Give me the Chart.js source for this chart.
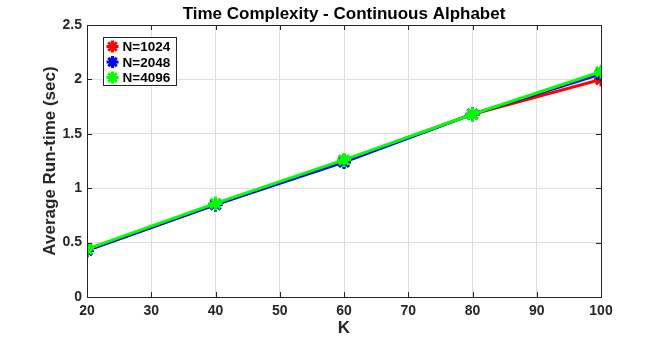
<!DOCTYPE html>
<html>
<head>
<meta charset="utf-8">
<script src="https://cdn.jsdelivr.net/npm/chart.js@4"></script>
<style>
  html, body { margin: 0; padding: 0; background: #fff; }
  #wrap { width: 664px; height: 339px; }
</style>
</head>
<body>
<div id="wrap"><canvas id="timeChart" width="664" height="339"></canvas></div>
<script>
const kValues = [20, 40, 60, 80, 100];
const n1024 = [0.43, 0.85, 1.25, 1.68, 2.00];
const n2048 = [0.43, 0.85, 1.24, 1.68, 2.05];
const n4096 = [0.44, 0.86, 1.26, 1.68, 2.07];
const seriesNames = ['N=1024', 'N=2048', 'N=4096'];
const seriesColors = ['#ff0000', '#0000ff', '#00ff00'];
const xTicks = [20, 30, 40, 50, 60, 70, 80, 90, 100];
const yTicks = [0, 0.5, 1, 1.5, 2, 2.5];

const FONT = 'Liberation Sans, Arial, Helvetica, sans-serif';
const ctx = document.getElementById('timeChart').getContext('2d');

const toPoints = vals => vals.map((v, i) => ({ x: kValues[i], y: v }));

const makeSet = (i, vals, order) => ({
    label: seriesNames[i],
    data: toPoints(vals),
    borderColor: seriesColors[i],
    backgroundColor: seriesColors[i],
    borderWidth: 3,
    pointStyle: 'star',
    pointRadius: 7,
    pointBorderWidth: 3,
    pointBorderColor: seriesColors[i],
    tension: 0,
    order: order
});

// frame, inward ticks, title, legend box
const matlabBits = {
    id: 'matlabBits',
    afterDraw(chart) {
        const { ctx, chartArea: a, scales } = chart;
        const sx = scales.x, sy = scales.y;
        ctx.save();
        ctx.strokeStyle = '#262626';
        ctx.lineWidth = 1;
        ctx.beginPath();
        xTicks.forEach(t => {
            const px = Math.round(sx.getPixelForValue(t)) + 0.5;
            ctx.moveTo(px, a.bottom); ctx.lineTo(px, a.bottom - 5);
            ctx.moveTo(px, a.top); ctx.lineTo(px, a.top + 5);
        });
        yTicks.forEach(t => {
            const py = Math.round(sy.getPixelForValue(t)) + 0.5;
            ctx.moveTo(a.left, py); ctx.lineTo(a.left + 5, py);
            ctx.moveTo(a.right, py); ctx.lineTo(a.right - 5, py);
        });
        ctx.stroke();
        ctx.strokeRect(Math.round(a.left) + 0.5, Math.round(a.top) + 0.5,
            Math.round(a.right - a.left), Math.round(a.bottom - a.top));

        // title
        ctx.fillStyle = '#000';
        ctx.font = 'bold 17px ' + FONT;
        ctx.textAlign = 'center';
        ctx.textBaseline = 'middle';
        ctx.fillText('Time Complexity - Continuous Alphabet', (a.left + a.right) / 2, 14);

        // legend
        const lx = 103.5, ly = 37.5, lw = 73, lh = 48;
        ctx.fillStyle = '#fff';
        ctx.fillRect(lx, ly, lw, lh);
        ctx.strokeStyle = '#262626';
        ctx.lineWidth = 1;
        ctx.strokeRect(lx, ly, lw, lh);
        ctx.font = 'bold 13.5px ' + FONT;
        ctx.textAlign = 'left';
        seriesNames.forEach((name, i) => {
            const y = ly + 9 + i * 15.5;
            ctx.strokeStyle = seriesColors[i];
            ctx.lineWidth = 3;
            ctx.beginPath();
            const r = 6;
            for (let k = 0; k < 4; k++) {
                const ang = k * Math.PI / 4;
                ctx.moveTo(lx + 9 - r * Math.cos(ang), y - r * Math.sin(ang));
                ctx.lineTo(lx + 9 + r * Math.cos(ang), y + r * Math.sin(ang));
            }
            ctx.stroke();
            ctx.fillStyle = '#000';
            ctx.fillText(name, lx + 19, y + 1);
        });
        ctx.restore();
    }
};

new Chart(ctx, {
    type: 'line',
    data: {
        datasets: [makeSet(0, n1024, 3), makeSet(1, n2048, 2), makeSet(2, n4096, 1)]
    },
    options: {
        responsive: false,
        animation: false,
        layout: { padding: { top: 25, left: 0, right: 63, bottom: 0 } },
        plugins: {
            legend: { display: false },
            title: { display: false },
            tooltip: { enabled: false }
        },
        scales: {
            x: {
                type: 'linear',
                min: 20,
                max: 100,
                afterBuildTicks: s => { s.ticks = xTicks.map(v => ({ value: v })); },
                afterFit: s => { s.height = 42; },
                grid: { color: '#dedede', drawTicks: false, lineWidth: 1 },
                border: { color: '#262626', width: 1 },
                ticks: {
                    padding: 6,
                    color: '#262626',
                    font: { family: FONT, size: 14, weight: 'bold' },
                    maxRotation: 0
                },
                title: {
                    display: true,
                    text: 'K',
                    color: '#262626',
                    font: { family: FONT, size: 17, weight: 'bold' },
                    padding: { top: 0, bottom: 0 }
                }
            },
            y: {
                type: 'linear',
                min: 0,
                max: 2.5,
                afterBuildTicks: s => { s.ticks = yTicks.map(v => ({ value: v })); },
                afterFit: s => { s.width = 87; },
                grid: { color: '#dedede', drawTicks: false, lineWidth: 1 },
                border: { color: '#262626', width: 1 },
                ticks: {
                    padding: 5,
                    color: '#262626',
                    font: { family: FONT, size: 14, weight: 'bold' },
                    callback: v => String(v)
                },
                title: {
                    display: true,
                    text: 'Average Run-time (sec)',
                    color: '#262626',
                    font: { family: FONT, size: 17, weight: 'bold' },
                    padding: { top: 40, bottom: 0 }
                }
            }
        }
    },
    plugins: [matlabBits]
});
</script>
</body>
</html>
